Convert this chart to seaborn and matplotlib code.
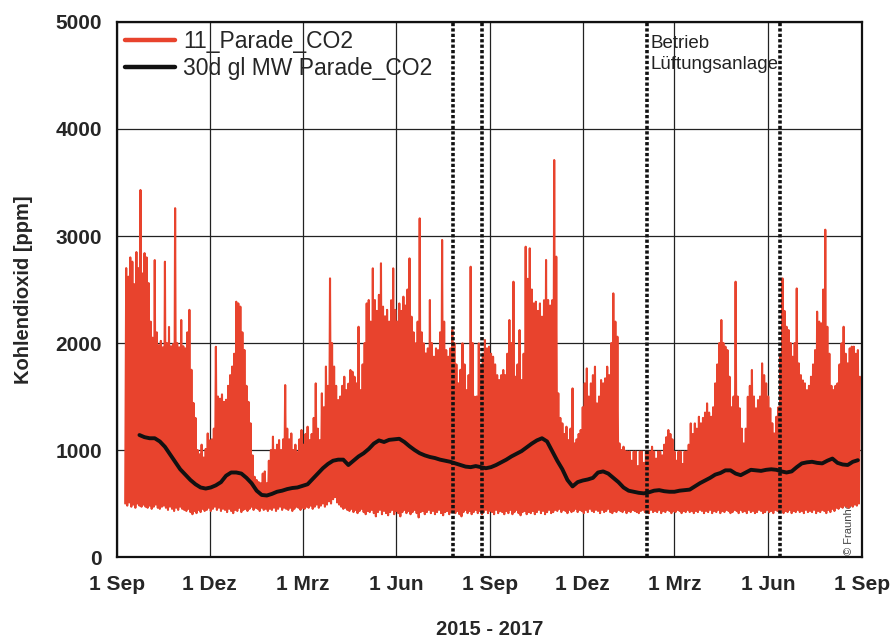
import numpy as np
import pandas as pd
import matplotlib
matplotlib.use("Agg")
import matplotlib.pyplot as plt
import seaborn as sns

# CO2-Messung Parade: je 2 Tage ein Nacht-Tiefstwert und ein Tages-Hoechstwert (ppm), ab 09.09.2015
messbeginn = "2015-09-09"
tageshoechstwerte = [
    2700, 2620, 2800, 2760, 2550, 2850, 2700, 3430, 2650, 2840,
    2800, 2560, 2200, 2050, 2775, 2100, 1980, 2020, 1960, 2760,
    2000, 2150, 1970, 1990, 3260, 2000, 1960, 2215, 1970, 1950,
    2100, 2310, 1750, 1440, 1300, 1000, 960, 1050, 930, 1010,
    1155, 1090, 1100, 1200, 1965, 1500, 1480, 1520, 1450, 1470,
    1600, 1700, 1780, 1900, 2386, 2370, 2340, 2100, 1935, 1600,
    1450, 1250, 950, 750, 720, 700, 690, 780, 800, 690,
    900, 1000, 1125, 1000, 1050, 1093, 1000, 1100, 1607, 1200,
    1100, 1155, 1000, 1050, 980, 1100, 1187, 1050, 1150, 1218,
    1093, 1150, 1300, 1623, 1200, 1093, 1530, 1400, 1780, 1600,
    2604, 2000, 1780, 1600, 1467, 1500, 1600, 1685, 1560, 1620,
    1748, 1732, 1685, 1623, 2152, 1560, 1800, 2000, 2370, 2402,
    2200, 2698, 2402, 2300, 2450, 2745, 2340, 2250, 2310, 2200,
    2400, 2698, 2310, 2200, 2370, 2300, 2433, 2350, 2500, 2791,
    2246, 2100, 1997, 2200, 3165, 2100, 1997, 1903, 1950, 2402,
    2000, 1872, 1950, 1934, 2100, 2963, 2200, 1934, 1872, 1950,
    2121, 2000, 1800, 1623, 1750, 1997, 1800, 1560, 1700, 2713,
    2000, 1498, 1500, 1997, 1800, 1900, 2028, 1950, 1966, 1900,
    1872, 1800, 1700, 1654, 1700, 1748, 1700, 1900, 2215, 2000,
    2573, 1685, 1800, 2121, 1654, 1900, 2900, 2600, 2885, 2500,
    2370, 2386, 2300, 2370, 2246, 2400, 2776, 2402, 2350, 2400,
    3710, 2807, 1530, 1300, 1249, 1150, 1218, 1093, 1200, 1576,
    1062, 1100, 1150, 1187, 1400, 1623, 1763, 1500, 1623, 1700,
    1779, 1436, 1500, 1654, 1623, 1670, 1779, 1700, 2000, 2464,
    2200, 2059, 1062, 1000, 1031, 990, 985, 985, 900, 985,
    985, 850, 985, 985, 880, 985, 985, 985, 1031, 985,
    920, 985, 985, 950, 1050, 1120, 1187, 1150, 1100, 985,
    900, 985, 985, 870, 985, 985, 1050, 1249, 1150, 1249,
    1200, 1311, 1250, 1300, 1350, 1436, 1350, 1311, 1400, 1623,
    1800, 2000, 2215, 2000, 1966, 1934, 1685, 1400, 1500, 2573,
    1500, 1390, 1200, 1062, 1200, 1498, 1600, 1748, 1500, 1390,
    1467, 1500, 1810, 1700, 1623, 1500, 1390, 1250, 1155, 1311,
    1400, 1900, 2604, 2300, 2152, 2121, 2000, 1872, 2000, 2510,
    1810, 1700, 1650, 1623, 1560, 1600, 1685, 1800, 1934, 2293,
    2200, 2184, 2500, 3059, 2152, 1900, 1600, 1560, 1600, 1623,
    1800, 1997, 2152, 1900, 1810, 1950, 1966, 1966, 1900, 1934, 1685,
]
nachttiefstwerte = [
    500, 480, 510, 470, 490, 460, 500, 480, 470, 490,
    470, 460, 480, 450, 470, 490, 460, 450, 470, 480,
    460, 440, 470, 450, 430, 460, 440, 470, 450, 440,
    430, 450, 420, 400, 430, 410, 440, 420, 450, 430,
    440, 460, 430, 450, 470, 440, 460, 430, 450, 440,
    420, 450, 430, 410, 440, 430, 460, 420, 440, 450,
    430, 450, 470, 440, 460, 450, 430, 460, 440, 450,
    430, 450, 440, 460, 430, 450, 470, 440, 460, 450,
    440, 460, 430, 450, 470, 460, 440, 460, 450, 470,
    460, 480, 450, 470, 490, 460, 480, 500, 470, 490,
    520, 500, 540, 560, 510, 490, 470, 450, 460, 440,
    430, 450, 420, 440, 410, 430, 450, 420, 400, 430,
    420, 440, 410, 380, 420, 440, 400, 430, 410, 390,
    420, 440, 400, 430, 410, 380, 420, 440, 410, 430,
    400, 420, 440, 410, 370, 420, 430, 400, 420, 440,
    410, 430, 400, 420, 440, 410, 390, 420, 430, 400,
    420, 440, 410, 430, 400, 380, 420, 440, 410, 430,
    400, 420, 440, 410, 430, 400, 420, 440, 410, 430,
    420, 400, 440, 410, 430, 420, 400, 430, 410, 440,
    400, 420, 440, 410, 390, 420, 430, 400, 420, 410,
    430, 400, 420, 440, 410, 430, 400, 420, 440, 410,
    420, 440, 430, 450, 420, 440, 430, 410, 440, 420,
    430, 450, 420, 440, 430, 410, 440, 420, 450, 430,
    420, 440, 430, 410, 440, 420, 430, 450, 420, 410,
    430, 420, 440, 430, 420, 440, 410, 430, 420, 440,
    430, 420, 410, 430, 440, 420, 430, 410, 440, 420,
    430, 420, 440, 410, 430, 420, 440, 430, 410, 430,
    420, 440, 430, 410, 430, 420, 440, 420, 430, 410,
    430, 420, 440, 430, 410, 430, 420, 440, 410, 430,
    420, 440, 410, 430, 420, 440, 430, 410, 420, 440,
    430, 410, 440, 420, 430, 410, 440, 420, 430, 410,
    420, 440, 430, 410, 420, 440, 420, 430, 410, 440,
    430, 420, 440, 410, 430, 420, 440, 410, 430, 420,
    440, 420, 430, 410, 440, 420, 430, 420, 440, 410,
    430, 420, 440, 430, 410, 440, 420, 450, 430, 460,
    450, 470, 460, 480, 470, 460, 480, 470, 490, 480, 500,
]

# 30-Tage gleitendes Mittel, Stuetzstellen im 5-Tage-Abstand ab 23.09.2015
mittel_beginn = "2015-09-23"
gleitendes_mittel_30d = [
    1140, 1120, 1110, 1110, 1080, 1030, 960, 890, 820, 770,
    720, 680, 650, 640, 650, 670, 700, 760, 790, 790,
    780, 740, 690, 620, 580, 575, 590, 610, 620, 635,
    645, 650, 665, 680, 730, 780, 830, 870, 900, 910,
    910, 860, 900, 940, 970, 1010, 1060, 1090, 1075, 1095,
    1100, 1105, 1075, 1035, 1000, 970, 950, 935, 925, 910,
    900, 890, 875, 860, 845, 840, 850, 840, 830, 840,
    860, 885, 910, 940, 965, 990, 1025, 1060, 1090, 1110,
    1080, 990, 900, 820, 720, 660, 700, 715, 725, 740,
    790, 800, 780, 740, 700, 650, 620, 610, 600, 595,
    605, 620, 625, 615, 610, 610, 620, 625, 630, 660,
    690, 715, 740, 770, 785, 810, 810, 780, 765, 790,
    815, 810, 805, 815, 820, 815, 800, 790, 800, 840,
    875, 885, 890, 880, 875, 900, 920, 880, 865, 860,
    890, 905,
]

# Grenzen des Betriebs der Lueftungsanlage
lueftung_grenzen = ["2016-07-27", "2016-08-24", "2017-02-02", "2017-06-13"]

x_ticks = ["2015-09-01", "2015-12-01", "2016-03-01", "2016-06-01", "2016-09-01",
           "2016-12-01", "2017-03-01", "2017-06-01", "2017-09-01"]
x_ticklabels = ["1 Sep", "1 Dez", "1 Mrz", "1 Jun", "1 Sep", "1 Dez", "1 Mrz", "1 Jun", "1 Sep"]
y_ticks = [0, 1000, 2000, 3000, 4000, 5000]

sns.set_style("white")
plt.rcParams["font.family"] = ["Liberation Sans", "DejaVu Sans"]

n = len(tageshoechstwerte)
werte = np.empty(2 * n)
werte[0::2] = nachttiefstwerte
werte[1::2] = tageshoechstwerte
zeit = pd.date_range(messbeginn, periods=2 * n, freq="D")
messung = pd.DataFrame({"zeit": zeit, "co2": werte})

mittel = pd.DataFrame({
    "zeit": pd.date_range(mittel_beginn, periods=len(gleitendes_mittel_30d), freq="5D"),
    "co2": gleitendes_mittel_30d,
})

fig = plt.figure(figsize=(8.9, 6.41), dpi=100)
ax = fig.add_axes([0.1315, 0.131, 0.837, 0.8347])

rot = "#e8432d"
sns.lineplot(data=messung, x="zeit", y="co2", ax=ax, color=rot, lw=1.5,
             estimator=None, sort=False, label="11_Parade_CO2", zorder=2)
sns.lineplot(data=mittel, x="zeit", y="co2", ax=ax, color="#111111", lw=2.8,
             estimator=None, sort=False, label="30d gl MW Parade_CO2", zorder=3)

for d in lueftung_grenzen:
    ax.axvline(pd.Timestamp(d), color="#111111", lw=2.6, linestyle=(0, (0.9, 0.6)), zorder=4)

ax.text(pd.Timestamp("2017-02-05"), 4880, "Betrieb\nLüftungsanlage", fontsize=13.5,
        ha="left", va="top", color="#222222", linespacing=1.3, zorder=5)

ax.text(pd.Timestamp("2017-08-19"), 20, "© Fraunhofer IBP", rotation=90, fontsize=8,
        ha="center", va="bottom", color="#444444", zorder=1)

ax.set_xlim(pd.Timestamp("2015-09-01"), pd.Timestamp("2017-09-01"))
ax.set_ylim(0, 5000)
ax.set_xticks([pd.Timestamp(t) for t in x_ticks])
ax.set_xticklabels(x_ticklabels, fontsize=15, fontweight="bold")
ax.set_yticks(y_ticks)
ax.set_yticklabels([str(v) for v in y_ticks], fontsize=15, fontweight="bold")
ax.tick_params(axis="x", length=0, pad=13)
ax.tick_params(axis="y", length=0, pad=11)

ax.grid(True, color="#222222", lw=0.9)
ax.set_axisbelow(True)
for s in ax.spines.values():
    s.set_color("#111111")
    s.set_linewidth(1.6)

ax.set_xlabel("2015 - 2017", fontsize=14.5, fontweight="bold", labelpad=19)
ax.set_ylabel("Kohlendioxid [ppm]", fontsize=14.5, fontweight="bold", labelpad=16)

leg = ax.legend(loc="upper left", frameon=False, fontsize=16.5, handlelength=2.2,
                handletextpad=0.35, labelspacing=0.16, borderaxespad=0.15, borderpad=0.2,
                bbox_to_anchor=(0.0, 1.0))
for h in leg.get_lines():
    h.set_linewidth(3.2)

fig.savefig("out.png", dpi=100, facecolor="white")
